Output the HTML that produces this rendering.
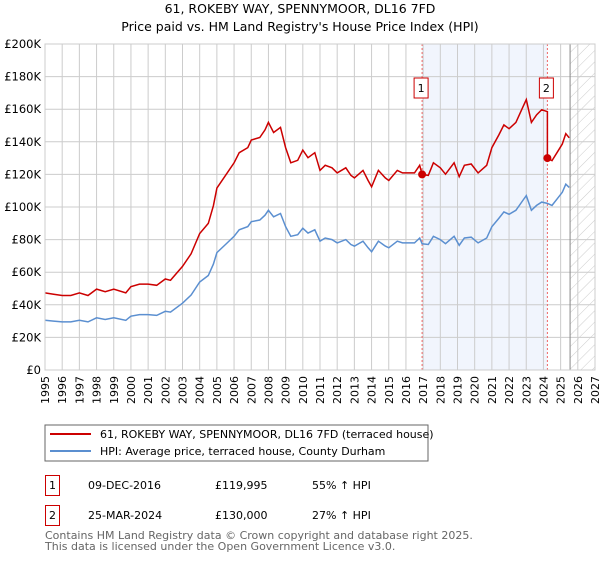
<!DOCTYPE html>
<html><head><meta charset="utf-8"><style>
body{margin:0;background:#fff;width:600px;height:560px;overflow:hidden;font-family:"DejaVu Sans","Liberation Sans",sans-serif;}
svg text{font-family:"DejaVu Sans","Liberation Sans",sans-serif;}
</style></head><body>
<svg id="chart" width="600" height="560">
<defs><pattern id="hatch" width="8" height="8" patternUnits="userSpaceOnUse" patternTransform="rotate(45)"><line x1="0" y1="0" x2="0" y2="8" stroke="#ccc" stroke-width="1"/></pattern></defs>
<text x="300" y="13" text-anchor="middle" font-size="12.5">61, ROKEBY WAY, SPENNYMOOR, DL16 7FD</text>
<text x="300" y="31" text-anchor="middle" font-size="12.5">Price paid vs. HM Land Registry's House Price Index (HPI)</text>
<g id="grid"></g><g id="marks"></g><g id="axes"></g>
<rect x="45" y="425" width="383" height="36" fill="#fff" stroke="#666"/>
<line x1="50" y1="434" x2="91" y2="434" stroke="#cc0000" stroke-width="2"/>
<text x="100" y="438" font-size="11">61, ROKEBY WAY, SPENNYMOOR, DL16 7FD (terraced house)</text>
<line x1="50" y1="451" x2="91" y2="451" stroke="#5b8fd0" stroke-width="2"/>
<text x="100" y="455" font-size="11">HPI: Average price, terraced house, County Durham</text>
<g>
<rect x="45.5" y="475.5" width="14" height="20" fill="#fff" stroke="#cc0000"/>
<text x="52.5" y="489" text-anchor="middle" font-size="11">1</text>
<text x="88" y="489" font-size="11">09-DEC-2016</text>
<text x="215" y="489" font-size="11">£119,995</text>
<text x="312" y="489" font-size="11">55% ↑ HPI</text></g>
<g>
<rect x="45.5" y="505.5" width="14" height="20" fill="#fff" stroke="#cc0000"/>
<text x="52.5" y="519" text-anchor="middle" font-size="11">2</text>
<text x="88" y="519" font-size="11">25-MAR-2024</text>
<text x="215" y="519" font-size="11">£130,000</text>
<text x="312" y="519" font-size="11">27% ↑ HPI</text></g>
<text x="45" y="539" font-size="11" fill="#666">Contains HM Land Registry data © Crown copyright and database right 2025.</text>
<text x="45" y="550" font-size="11" fill="#666">This data is licensed under the Open Government Licence v3.0.</text>
</svg>
<script>
const hpiYears=[1995,1995.5,1996,1996.5,1997,1997.5,1998,1998.5,1999,1999.7,2000,2000.5,2001,2001.5,2002,2002.3,2003,2003.5,2004,2004.5,2004.8,2005,2005.5,2006,2006.3,2006.8,2007,2007.5,2007.8,2008,2008.3,2008.7,2009,2009.3,2009.7,2010,2010.3,2010.7,2011,2011.3,2011.7,2012,2012.5,2012.8,2013,2013.5,2013.8,2014,2014.4,2014.8,2015,2015.5,2015.8,2016.5,2016.8,2016.94,2017.3,2017.6,2018,2018.3,2018.8,2019.1,2019.4,2019.8,2020.2,2020.7,2021,2021.4,2021.7,2022,2022.4,2022.8,2023,2023.3,2023.6,2023.9,2024.23,2024.5,2024.8,2025.1,2025.3,2025.5];
const hpiValues=[30.5,30,29.5,29.5,30.5,29.5,32,31,32,30.5,33,34,34,33.5,36,35.5,41,46,54,58,65,72,77,82,86,88,91,92,95,98,94,96,88,82,83,87,84,86,79,81,80,78,80,77,76,79,75,72.5,79,76,75,79,78,78,81,77.4,77,82,80,77.5,82,76.5,81,81.5,78,81,88,93,97,95.5,98,104,107,98,101,103,102.2,101,105,109,114,112];
const saleYears=[2016.94,2024.23];
const salePrices=[119.995,130];
const saleLabels=["1","2"];
const yTicks=[0,20,40,60,80,100,120,140,160,180,200];
const yTickLabels=["£0","£20K","£40K","£60K","£80K","£100K","£120K","£140K","£160K","£180K","£200K"];
const xTicks=[1995,1996,1997,1998,1999,2000,2001,2002,2003,2004,2005,2006,2007,2008,2009,2010,2011,2012,2013,2014,2015,2016,2017,2018,2019,2020,2021,2022,2023,2024,2025,2026,2027];
const dataEnd=2025.55;
const X0=45,X1=595,Y0=370,Y1=44;
const xs=y=>X0+(y-1995)/(2027-1995)*(X1-X0);
const ys=v=>Y0-v/200*(Y0-Y1);
const NS="http://www.w3.org/2000/svg";
function mk(parent,tag,attrs){const e=document.createElementNS(NS,tag);for(const k in attrs)e.setAttribute(k,attrs[k]);parent.appendChild(e);return e;}
const grid=document.getElementById('grid'),marks=document.getElementById('marks'),axes=document.getElementById('axes');
// shaded region & hatch
let sh=mk(grid,'rect',{x:xs(saleYears[0]),y:Y1,width:xs(saleYears[1])-xs(saleYears[0]),height:Y0-Y1,fill:'#eef3fc',opacity:0.8});


let ht=mk(grid,'rect',{x:xs(dataEnd),y:Y1,width:X1-xs(dataEnd),height:Y0-Y1,fill:'url(#hatch)'});


xTicks.forEach(t=>{const l=mk(grid,'line',{x1:xs(t),x2:xs(t),y1:Y1,y2:Y0,stroke:'#ccc'});


const tx=mk(axes,'text',{x:0,y:0,'font-size':11,'text-anchor':'end',transform:`translate(${xs(t)+4},${Y0+6}) rotate(-90)`});tx.textContent=t;

});
yTicks.forEach((t,i)=>{const l=mk(grid,'line',{x1:X0,x2:X1,y1:ys(t),y2:ys(t),stroke:'#ccc'});


const tx=mk(axes,'text',{x:X0-4,y:ys(t)+4,'font-size':11.5,'text-anchor':'end'});tx.textContent=yTickLabels[i];

});
let dl=mk(grid,'line',{x1:xs(dataEnd),x2:xs(dataEnd),y1:Y1,y2:Y0,stroke:'#888'});


saleYears.forEach(s=>{const l=mk(grid,'line',{x1:xs(s),x2:xs(s),y1:Y1,y2:Y0,stroke:'#e66','stroke-dasharray':'2,2'});

});
// hpi line
const hp=hpiYears.map((y,i)=>xs(y).toFixed(1)+','+ys(hpiValues[i]).toFixed(1)).join(' ');
const hl=mk(marks,'polyline',{points:hp,fill:'none',stroke:'#5b8fd0','stroke-width':1.5});


// price line: hpi scaled to sale prices
function hpiAt(t){for(let i=1;i<hpiYears.length;i++){if(t<=hpiYears[i]){const f=(t-hpiYears[i-1])/(hpiYears[i]-hpiYears[i-1]);return hpiValues[i-1]+f*(hpiValues[i]-hpiValues[i-1]);}}return hpiValues[hpiValues.length-1];}
const r1=salePrices[0]/hpiAt(saleYears[0]),r2=salePrices[1]/hpiAt(saleYears[1]);
const pts=[];hpiYears.forEach((y,i)=>{if(y<saleYears[1])pts.push([y,hpiValues[i]*r1]);});
pts.push([saleYears[1],hpiAt(saleYears[1])*r1]);pts.push([saleYears[1],salePrices[1]]);
hpiYears.forEach((y,i)=>{if(y>saleYears[1])pts.push([y,hpiValues[i]*r2]);});
const pl=mk(marks,'polyline',{points:pts.map(p=>xs(p[0]).toFixed(1)+','+ys(p[1]).toFixed(1)).join(' '),fill:'none',stroke:'#cc0000','stroke-width':1.5});


saleYears.forEach((s,i)=>{const c=mk(marks,'circle',{cx:xs(s),cy:ys(salePrices[i]),r:4,fill:'#cc0000'});


const g=mk(marks,'g',{});


mk(g,'rect',{x:xs(s)-8,y:78,width:14,height:20,fill:'#fff',stroke:'#cc0000'});
const t=mk(g,'text',{x:xs(s)-1,y:92,'font-size':11,'text-anchor':'middle'});t.textContent=saleLabels[i];});
let fr=mk(axes,'rect',{x:X0,y:Y1,width:X1-X0,height:Y0-Y1,fill:'none',stroke:'#ccc'});


</script>
</body></html>
